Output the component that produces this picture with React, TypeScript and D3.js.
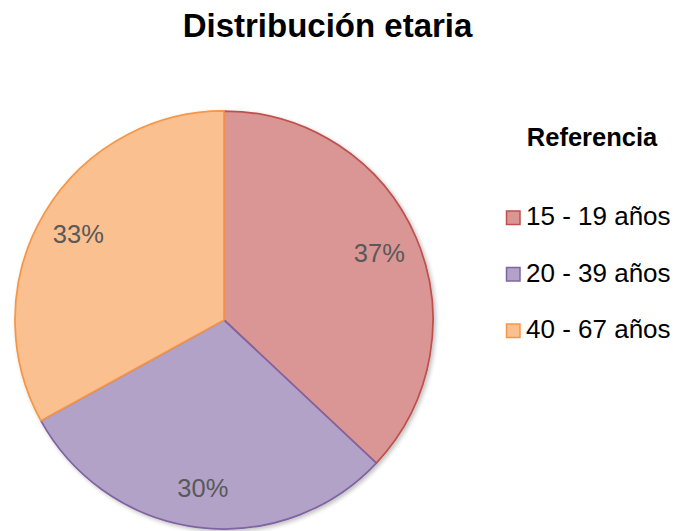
import React from 'react';
import * as d3 from 'd3';

const title = 'Distribución etaria';
const legendTitle = 'Referencia';
const categories = ['15 - 19 años', '20 - 39 años', '40 - 67 años'];
const values = [37, 30, 33];
const fills = ['#D99694', '#B3A2C7', '#FAC090'];
const strokes = ['#C0504D', '#8064A2', '#F79646'];

const W = 677;
const H = 531;
const cx = 224;
const cy = 320;
const radius = 209;
const font = '"Liberation Sans", Arial, sans-serif';

export default function App() {
  const data = categories.map((name, i) => ({ name, value: values[i], i }));
  const pie = d3.pie<any>().sort(null).value((d) => d.value);
  const arcs = pie(data);
  const arc = d3.arc<any>().innerRadius(0).outerRadius(radius);
  const labelArc = d3.arc<any>().innerRadius(radius * 0.81).outerRadius(radius * 0.81);
  const total = d3.sum(values);
  const fmt = d3.format('.0%');

  const legendY = d3.scalePoint<string>().domain(categories).range([225, 338]);

  return (
    <svg width={W} height={H} style={{ position: 'absolute', left: 0, top: 0, background: '#fff' }}>
      <defs>
        <filter id="shadow" x="-10%" y="-10%" width="120%" height="120%">
          <feGaussianBlur in="SourceAlpha" stdDeviation="2" />
          <feOffset dx="2" dy="2" result="blur" />
          <feComponentTransfer>
            <feFuncA type="linear" slope="0.25" />
          </feComponentTransfer>
          <feMerge>
            <feMergeNode />
            <feMergeNode in="SourceGraphic" />
          </feMerge>
        </filter>
      </defs>
      <text x={327.5} y={37} textAnchor="middle" fontFamily={font} fontWeight="bold" fontSize={33} fill="#000">
        {title}
      </text>
      <g transform={`translate(${cx},${cy})`} filter="url(#shadow)">
        {arcs.map((a) => (
          <path key={a.data.name} d={arc(a) || ''} fill={fills[a.data.i]} stroke={strokes[a.data.i]} strokeWidth={1.75} strokeLinejoin="round" />
        ))}
      </g>
      <g transform={`translate(${cx},${cy})`}>
        {arcs.map((a) => {
          const [lx, ly] = labelArc.centroid(a);
          return (
            <text key={a.data.name} x={lx} y={ly} dy="0.36em" textAnchor="middle" fontFamily={font} fontSize={25.5} fill="#595959">
              {fmt(a.data.value / total)}
            </text>
          );
        })}
      </g>
      <text x={592} y={146} textAnchor="middle" fontFamily={font} fontWeight="bold" fontSize={25.5} fill="#000">
        {legendTitle}
      </text>
      {categories.map((c, i) => {
        const y = legendY(c) as number;
        return (
          <g key={c}>
            <rect x={506.5} y={y - 14} width={13.5} height={13.5} fill={fills[i]} stroke={strokes[i]} strokeWidth={1.5} />
            <text x={526} y={y} fontFamily={font} fontSize={26} fill="#000">
              {c}
            </text>
          </g>
        );
      })}
    </svg>
  );
}
